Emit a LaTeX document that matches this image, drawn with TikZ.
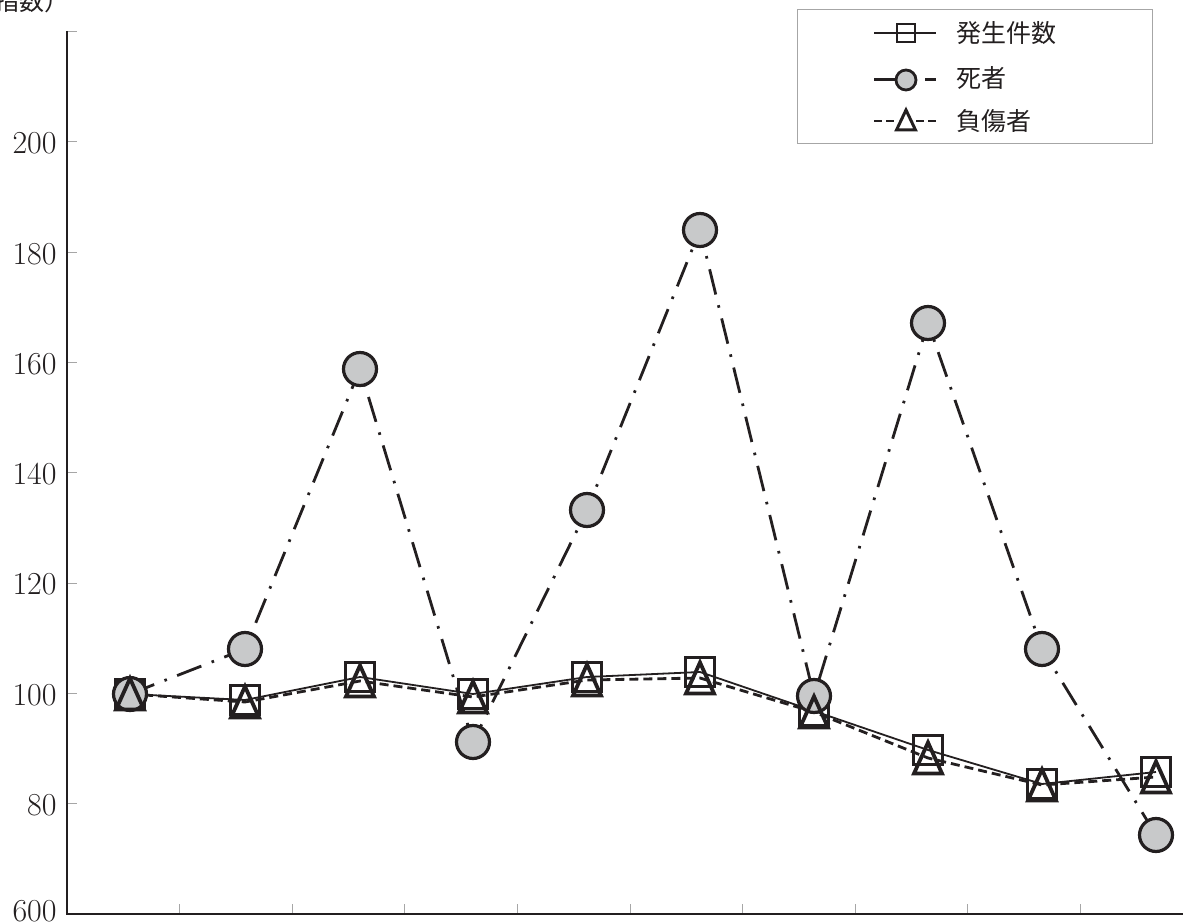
\documentclass[tikz,border=0pt]{standalone}
\usepackage{fontspec}
\newfontfamily\jp{Noto Sans CJK JP}
\definecolor{ink}{HTML}{231F20}
\definecolor{mk}{HTML}{C8C9CA}
\definecolor{tk}{HTML}{A6A6A6}
\tikzset{
  sq/.style={draw=ink, line width=1.55pt, rectangle, minimum size=14.5pt, inner sep=0pt},
  ci/.style={draw=ink, fill=mk, line width=1.6pt, circle, minimum size=16.5pt, inner sep=0pt},
  lsq/.style={draw=ink, line width=1.1pt, rectangle, minimum size=9pt, inner sep=0pt},
  lci/.style={draw=ink, fill=mk, line width=1.4pt, circle, minimum size=10pt, inner sep=0pt},
  seriesA/.style={draw=ink, line width=0.9pt},
  seriesB/.style={draw=ink, line width=1.4pt, dash pattern=on 13pt off 5.5pt on 1.3pt off 5.5pt},
  seriesC/.style={draw=ink, line width=1.4pt, dash pattern=on 4.5pt off 2.5pt},
  axisline/.style={draw=ink, line width=1.25pt, line join=miter},
  tickline/.style={draw=tk, line width=0.5pt},
  ylab/.style={anchor=east, inner sep=0pt, text=ink, font=\fontsize{16}{19}\selectfont},
  legtxt/.style={anchor=west, inner sep=0pt, text=ink, font=\jp\fontsize{12.5}{15}\selectfont},
  tri/.pic={\draw[ink, line width=1.9pt, line join=miter] (0,-15.5) -- (14,15.5) -- (-14,15.5) -- cycle;},
  ltri/.pic={\draw[ink, line width=1.5pt, line join=miter] (0,-10) -- (9.5,10) -- (-9.5,10) -- cycle;},
}
\begin{document}
\begin{tikzpicture}[x=0.5pt, y=-0.5pt]
\useasboundingbox (0,0) rectangle (1183,924);

% axes
\coordinate (Ytop) at (67,31);
\coordinate (O) at (67,914);
\coordinate (Xend) at (1183,914);
\foreach \v/\y in {220/31.6,200/141.9,180/252.2,160/362.5,140/472.8,120/583.1,100/693.4,80/803.7}
  \draw[tickline] (67,\y) -- (77,\y);
\foreach \k in {0,...,8}
  \draw[tickline] ({179.6+112.6*\k},904) -- ({179.6+112.6*\k},914);
\draw[axisline] (Ytop) -- (O) -- (Xend);

% y labels
\foreach \v/\y in {200/141.9,180/252.2,160/362.5,140/472.8,120/583.1,100/693.4,80/803.7}
  \node[ylab] (yl\v) at (57,\y+1.5) {\v};
\node[ylab] (yl60) at (57,911) {600};
\node[anchor=east, inner sep=0pt, text=ink, font=\jp\fontsize{12.5}{15}\selectfont] (ytitle) at (70,1) {（指数）};

% data points
\foreach \i/\x/\y in {1/130/694,2/245/700,3/360/677,4/473/694,5/587/677,6/700/672,7/814/711,8/928/750,9/1042/784,10/1156/772}
  \coordinate (s\i) at (\x,\y);
\foreach \i/\x/\y in {1/130/694,2/245/649,3/360/369,4/473/742,5/587/510,6/700/230,7/814/696,8/928/323,9/1042/649,10/1156/835}
  \coordinate (c\i) at (\x,\y);
\foreach \i/\x/\y in {1/130/694,2/245/702,3/360/681,4/473/697,5/587/680,6/700/678,7/814/712,8/928/758,9/1042/785,10/1156/777}
  \coordinate (t\i) at (\x,\y);

% series lines
\draw[seriesB] (c1) -- (c2) -- (c3) -- (c4) -- (c5) -- (c6) -- (c7) -- (c8) -- (c9) -- (c10);
\draw[seriesA] (s1) -- (s2) -- (s3) -- (s4) -- (s5) -- (s6) -- (s7) -- (s8) -- (s9) -- (s10);
\draw[seriesC] (t1) -- (t2) -- (t3) -- (t4) -- (t5) -- (t6) -- (t7) -- (t8) -- (t9) -- (t10);

% markers
\foreach \i in {1,...,10} \node[sq] (S\i) at (s\i) {};
\foreach \i in {1,...,10} \node[ci] (C\i) at (c\i) {};
\foreach \i in {1,...,10} \pic at (t\i) {tri};

% legend
\node[draw=tk, line width=0.5pt, anchor=north west, minimum width=177.5pt, minimum height=67pt, inner sep=0pt] (legend) at (797,9) {};
\coordinate (la1) at (874,33); \coordinate (lb1) at (936,33);
\draw[ink, line width=0.8pt] (la1) -- (lb1);
\node[lsq] (LS) at (906,33) {};
\node[legtxt] (lt1) at (956,33) {発生件数};

\coordinate (la2) at (874,80); \coordinate (lb2) at (925,80); \coordinate (lc2) at (936,80);
\node[lci] (LC) at (906,80) {};
\draw[ink, line width=1.5pt] (la2) -- (LC.west);
\draw[ink, line width=1.5pt] (lb2) -- (lc2);
\node[legtxt] (lt2) at (956,78) {死者};

\coordinate (la3) at (874,121); \coordinate (lb3) at (896,121);
\coordinate (lc3) at (916,121); \coordinate (ld3) at (938,121);
\draw[ink, line width=1.4pt, dash pattern=on 4pt off 2pt] (la3) -- (lb3);
\draw[ink, line width=1.4pt, dash pattern=on 4pt off 2pt] (lc3) -- (ld3);
\pic at (906,120) {ltri};
\node[legtxt] (lt3) at (956,121) {負傷者};
\end{tikzpicture}
\end{document}
